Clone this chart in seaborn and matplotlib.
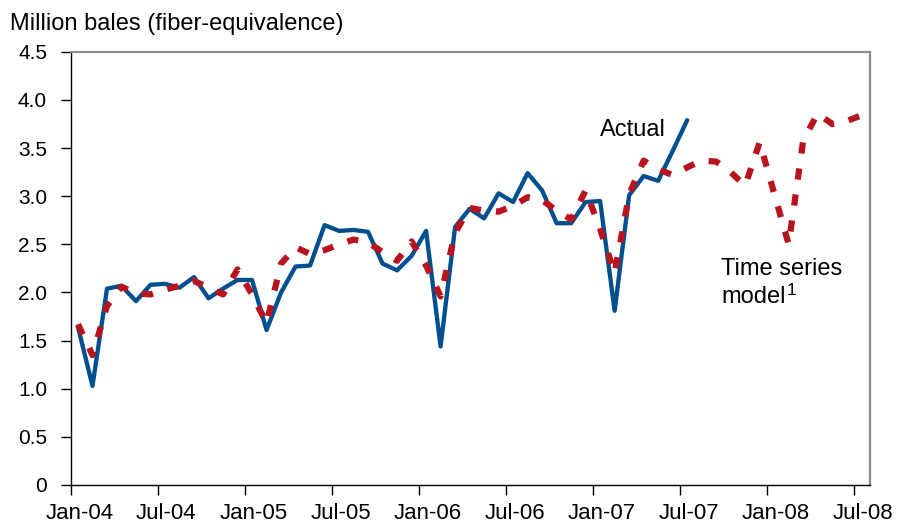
import numpy as np
import pandas as pd
import matplotlib
matplotlib.use("Agg")
import matplotlib.pyplot as plt
import seaborn as sns

# Monthly values, Jan-04 onward (million bales, fiber-equivalence)
actual = [1.64, 1.03, 2.04, 2.07, 1.91, 2.08, 2.09, 2.05, 2.16, 1.94, 2.04, 2.13,
          2.13, 1.61, 2.00, 2.27, 2.28, 2.70, 2.64, 2.65, 2.63, 2.30, 2.23, 2.38,
          2.64, 1.44, 2.68, 2.87, 2.77, 3.03, 2.94, 3.24, 3.06, 2.72, 2.72, 2.94,
          2.95, 1.81, 3.01, 3.21, 3.16, 3.47, 3.79]
model = [1.67, 1.35, 1.86, 2.06, 1.99, 1.98, 2.03, 2.07, 2.12, 2.05, 1.98, 2.24,
         1.98, 1.68, 2.30, 2.47, 2.40, 2.44, 2.50, 2.55, 2.52, 2.42, 2.33, 2.53,
         2.28, 1.96, 2.62, 2.88, 2.85, 2.84, 2.90, 2.99, 2.96, 2.85, 2.76, 3.06,
         2.66, 2.20, 3.02, 3.37, 3.28, 3.22, 3.30, 3.37, 3.36, 3.25, 3.11, 3.56,
         3.03, 2.50, 3.58, 3.86, 3.75, 3.78, 3.84]
tick_labels = ["Jan-04", "Jul-04", "Jan-05", "Jul-05", "Jan-06",
               "Jul-06", "Jan-07", "Jul-07", "Jan-08", "Jul-08"]
y_ticks = [0, 0.5, 1.0, 1.5, 2.0, 2.5, 3.0, 3.5, 4.0, 4.5]

BLUE = "#004F8F"
RED = "#B7141F"

df_actual = pd.DataFrame({"month": np.arange(len(actual)) + 0.5, "value": actual})
df_model = pd.DataFrame({"month": np.arange(len(model)) + 0.5, "value": model})

sns.set_style("white")
plt.rcParams["font.family"] = ["Liberation Sans", "DejaVu Sans"]
plt.rcParams["text.color"] = "black"
plt.rcParams["xtick.color"] = "black"
plt.rcParams["ytick.color"] = "black"

fig = plt.figure(figsize=(9.01, 5.25), dpi=100)
ax = fig.add_axes([0.0785, 0.0762, 0.887, 0.825])

sns.lineplot(data=df_actual, x="month", y="value", ax=ax, color=BLUE,
             linewidth=3.1, zorder=2)
sns.lineplot(data=df_model, x="month", y="value", ax=ax, color=RED,
             linewidth=4.5, dashes=False, zorder=3)
red_line = ax.get_lines()[-1]
red_line.set_dashes((1.8, 2.4))
red_line.set_dash_capstyle("butt")

ax.set_xlim(0, 55.1)
ax.set_ylim(0, 4.5)
ax.set_xlabel("")
ax.set_ylabel("")

# tick marks at month starts, labels slightly to the right
major = np.arange(0, 55, 6)
ax.set_xticks(major)
ax.set_xticklabels([])
ax.set_xticks(major + 0.6, minor=True)
ax.set_xticklabels(tick_labels, minor=True, fontsize=16)
ax.tick_params(axis="x", which="major", direction="out", length=7, width=1,
               color="black", bottom=True)
ax.tick_params(axis="x", which="minor", length=0, pad=13, bottom=True)

ax.set_yticks(y_ticks)
ax.set_yticklabels(["0" if v == 0 else f"{v:.1f}" for v in y_ticks], fontsize=15)
ax.tick_params(axis="y", direction="out", length=7, width=1, color="black",
               pad=10, left=True)

for side in ["left", "bottom"]:
    ax.spines[side].set_color("black")
    ax.spines[side].set_linewidth(1.0)
for side in ["top", "right"]:
    ax.spines[side].set_color("#8c8c8c")
    ax.spines[side].set_linewidth(1.6)

ax.text(36.5, 3.63, "Actual", fontsize=17, va="baseline", ha="left")
ax.text(44.85, 2.18, "Time series", fontsize=17, va="baseline", ha="left")
ax.text(44.85, 1.89, "model", fontsize=17, va="baseline", ha="left")
ax.text(49.35, 1.97, "1", fontsize=12.5, va="baseline", ha="left")

fig.text(10 / 901, 1 - 30 / 525, "Million bales (fiber-equivalence)",
         fontsize=17, va="baseline", ha="left")

fig.savefig("out.png", dpi=100)
